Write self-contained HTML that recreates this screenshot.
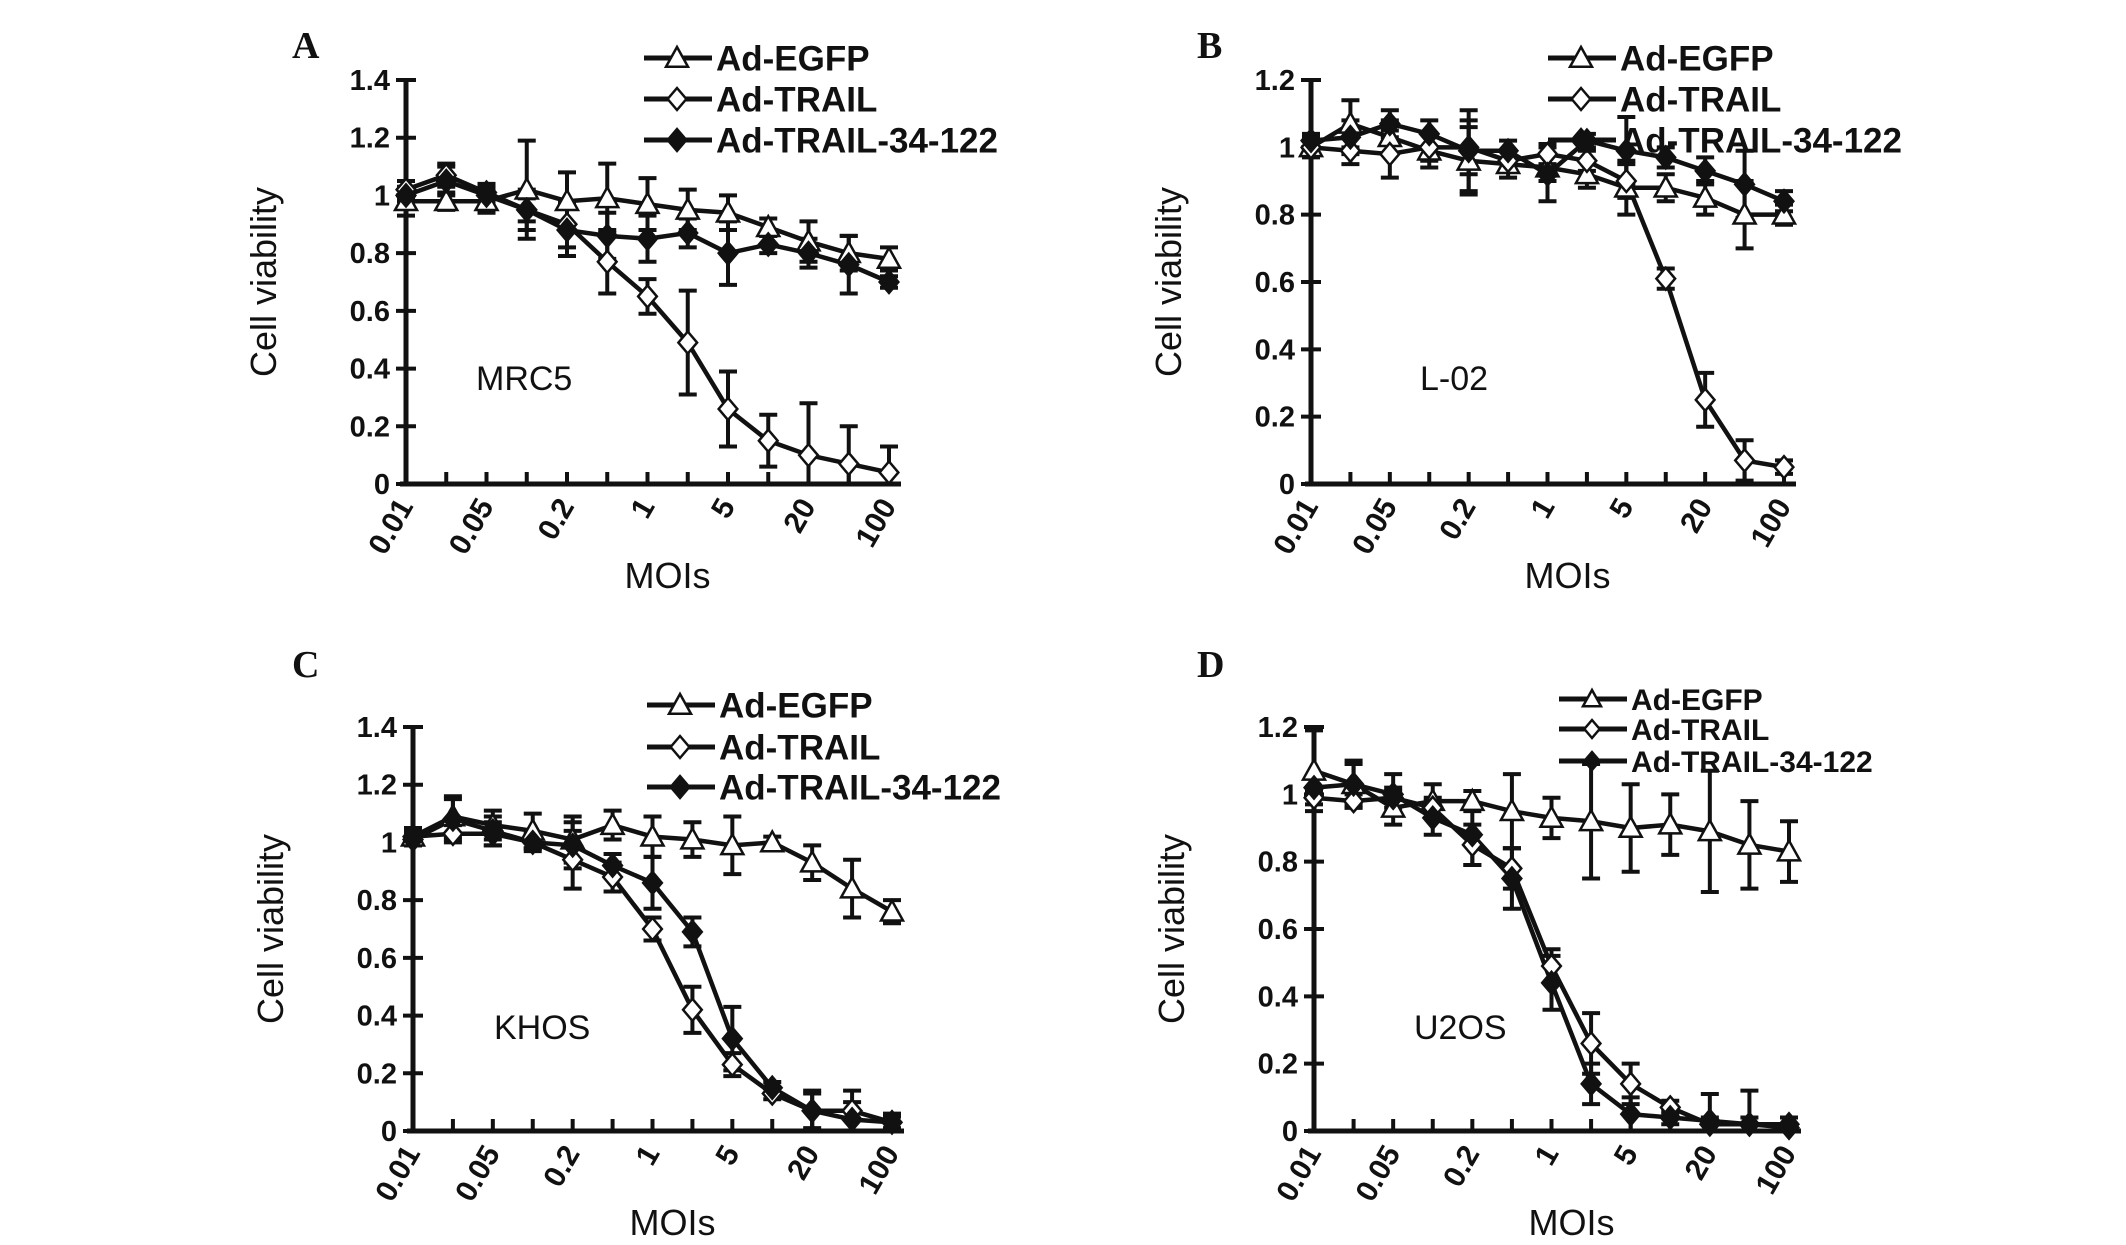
<!DOCTYPE html>
<html><head><meta charset="utf-8"><style>
html,body{margin:0;padding:0;background:#fff;}
svg{display:block;}
text{font-family:"Liberation Sans",Arial,sans-serif;fill:#111;}
</style></head><body>
<svg id="fig" width="2126" height="1245" viewBox="0 0 2126 1245" xmlns="http://www.w3.org/2000/svg"></svg>
<script>
const xLabels = ["0.01","","0.05","","0.2","","1","","5","","20","","100"];
const seriesNames = ["Ad-EGFP","Ad-TRAIL","Ad-TRAIL-34-122"];

const aEgfp = [0.98,0.98,0.98,1.02,0.98,0.99,0.97,0.95,0.94,0.89,0.84,0.80,0.78];
const aEgfpErr = [0.05,0.03,0.04,0.17,0.10,0.12,0.09,0.07,0.06,0.03,0.07,0.06,0.04];
const aTrail = [1.02,1.07,1.01,0.95,0.90,0.77,0.65,0.49,0.26,0.15,0.10,0.07,0.04];
const aTrailErr = [0.03,0.04,0.03,0.04,0.08,0.11,0.06,0.18,0.13,0.09,0.18,0.13,0.09];
const aMut = [1.00,1.05,1.00,0.95,0.88,0.86,0.85,0.87,0.80,0.83,0.80,0.76,0.70];
const aMutErr = [0.02,0.05,0.03,0.07,0.09,0.08,0.08,0.05,0.11,0.03,0.05,0.10,0.02];

const bEgfp = [1.00,1.07,1.03,0.99,0.96,0.95,0.94,0.92,0.88,0.88,0.85,0.80,0.80];
const bEgfpErr = [0.03,0.07,0.05,0.05,0.10,0.04,0.04,0.04,0.08,0.04,0.05,0.10,0.03];
const bTrail = [1.00,0.99,0.98,1.00,1.00,0.96,0.98,0.96,0.90,0.61,0.25,0.07,0.05];
const bTrailErr = [0.02,0.04,0.07,0.04,0.08,0.03,0.03,0.03,0.05,0.03,0.08,0.06,0.02];
const bMut = [1.02,1.03,1.07,1.04,0.99,0.99,0.92,1.02,0.99,0.97,0.93,0.89,0.84];
const bMutErr = [0.02,0.05,0.04,0.04,0.12,0.03,0.08,0.02,0.10,0.03,0.04,0.10,0.03];

const cEgfp = [1.02,1.09,1.06,1.04,1.01,1.06,1.02,1.01,0.99,1.00,0.93,0.84,0.76];
const cEgfpErr = [0.03,0.07,0.05,0.06,0.08,0.05,0.07,0.06,0.10,0.02,0.06,0.10,0.04];
const cTrail = [1.02,1.03,1.03,1.00,0.94,0.88,0.70,0.42,0.23,0.13,0.07,0.07,0.03];
const cTrailErr = [0.02,0.03,0.04,0.02,0.10,0.05,0.04,0.08,0.04,0.02,0.07,0.07,0.02];
const cMut = [1.01,1.08,1.04,1.00,0.99,0.92,0.86,0.69,0.32,0.15,0.07,0.04,0.03];
const cMutErr = [0.02,0.07,0.05,0.03,0.08,0.04,0.09,0.05,0.11,0.02,0.06,0.06,0.03];

const dEgfp = [1.07,1.03,0.96,0.98,0.98,0.95,0.93,0.92,0.90,0.91,0.89,0.85,0.83];
const dEgfpErr = [0.12,0.06,0.05,0.05,0.03,0.11,0.06,0.17,0.13,0.09,0.18,0.13,0.09];
const dTrail = [0.99,0.98,0.99,0.96,0.85,0.78,0.49,0.26,0.14,0.07,0.02,0.02,0.01];
const dTrailErr = [0.02,0.02,0.03,0.03,0.06,0.06,0.05,0.09,0.06,0.02,0.02,0.02,0.01];
const dMut = [1.02,1.03,1.00,0.93,0.88,0.75,0.44,0.14,0.05,0.04,0.03,0.02,0.02];
const dMutErr = [0.03,0.07,0.06,0.05,0.09,0.09,0.08,0.06,0.05,0.02,0.08,0.10,0.02];

const NS="http://www.w3.org/2000/svg";
const svg=document.getElementById('fig');
function mk(tag,attrs,parent,txt){const e=document.createElementNS(NS,tag);for(const k in attrs)e.setAttribute(k,attrs[k]);if(txt!==undefined)e.textContent=txt;(parent||svg).appendChild(e);return e;}

function marker(g,type,x,y,s){
  let e;
  if(type===0){e=mk('polygon',{points:`${x},${y-s} ${x-s},${y+s*0.8} ${x+s},${y+s*0.8}`,fill:'#fff',stroke:'#111','stroke-width':2.5},g);}
  else if(type===1){e=mk('polygon',{points:`${x},${y-s} ${x+s*0.85},${y} ${x},${y+s} ${x-s*0.85},${y}`,fill:'#fff',stroke:'#111','stroke-width':2.5},g);}
  else {e=mk('polygon',{points:`${x},${y-s} ${x+s*0.85},${y} ${x},${y+s} ${x-s*0.85},${y}`,fill:'#111',stroke:'#111','stroke-width':2.5},g);}
  return e;
}

function panel(p){
  const g=mk('g',{});
  
  
  const xS=i=>p.x0+i*(p.x1-p.x0)/12;
  const yS=v=>p.y0-(v/p.ymax)*(p.y0-p.ytop);
  const L=mk('text',{x:p.lx,y:p.ly,style:'font-family:"Liberation Serif",serif;font-size:38px;font-weight:bold'},g,p.letter);
  
  const ya=mk('line',{x1:p.x0,y1:p.ytop,x2:p.x0,y2:p.y0,stroke:'#111','stroke-width':5},g);
  
  const xa=mk('line',{x1:p.x0-6,y1:p.y0,x2:p.x1+12,y2:p.y0,stroke:'#111','stroke-width':5},g);
  
  for(let v=0;v<=p.ymax+1e-9;v+=0.2){
    const y=yS(v);
    mk('line',{x1:p.x0-10,y1:y,x2:p.x0+10,y2:y,stroke:'#111','stroke-width':4},g);
    const lab=(Math.abs(v-Math.round(v))<1e-9)?String(Math.round(v)):v.toFixed(1);
    const t=mk('text',{x:p.x0-16,y:y+10,'text-anchor':'end','font-size':29,'font-weight':'bold'},g,lab);
    
  }
  for(let i=0;i<13;i++){
    const x=xS(i);
    mk('line',{x1:x,y1:p.y0,x2:x,y2:p.y0-12,stroke:'#111','stroke-width':4},g);
    if(xLabels[i]){
      const t=mk('text',{x:x+8,y:p.y0+22,'text-anchor':'end','font-size':30,'font-weight':'bold',transform:`rotate(-60 ${x+8} ${p.y0+22})`},g,xLabels[i]);
      
    }
  }
  const yt=mk('text',{x:0,y:0,'text-anchor':'middle','font-size':36,transform:`translate(${p.x0-130},${(p.y0+p.ytop)/2}) rotate(-90)`},g,'Cell viability');
  
  const xt=mk('text',{x:(p.x0+p.x1)/2+20,y:p.y0+104,'text-anchor':'middle','font-size':36},g,'MOIs');
  
  const cl=mk('text',{x:p.cx,y:p.cy,'font-size':34},g,p.cell);
  
  p.series.forEach((s,si)=>{
    const sg=mk('g',{},g);
    
    
    s.v.forEach((v,i)=>{
      const x=xS(i),yt=yS(v+s.e[i]),yb=yS(Math.max(0,v-s.e[i]));
      mk('line',{x1:x,y1:yt,x2:x,y2:yb,stroke:'#111','stroke-width':4},sg);
      mk('line',{x1:x-9,y1:yt,x2:x+9,y2:yt,stroke:'#111','stroke-width':4},sg);
      mk('line',{x1:x-9,y1:yb,x2:x+9,y2:yb,stroke:'#111','stroke-width':4},sg);
    });
    const pts=s.v.map((v,i)=>xS(i)+','+yS(v)).join(' ');
    const pl=mk('polyline',{points:pts,fill:'none',stroke:'#111','stroke-width':4.5},sg);
    
  });
  p.series.forEach((s,si)=>{
    s.v.forEach((v,i)=>{
      const m=marker(g,si,xS(i),yS(v),11);
      
    });
  });
  const lg=mk('g',{},g);
  
  seriesNames.forEach((n,k)=>{
    const y=p.legY[k];
    const eg=mk('g',{},lg);
    
    mk('line',{x1:p.legX-78,y1:y,x2:p.legX-10,y2:y,stroke:'#111','stroke-width':5},eg);
    marker(eg,k,p.legX-45,y,p.legMs);
    mk('text',{x:p.legX-6,y:y+p.legFs*0.36,'font-size':p.legFs,'font-weight':'bold'},eg,n);
  });
}

panel({letter:'A',lx:292,ly:58,x0:406,x1:889,y0:484,ytop:80,ymax:1.4,cell:'MRC5',cx:476,cy:390,
  legX:722,legY:[58,99,140],legFs:35,legMs:11,
  series:[{v:aEgfp,e:aEgfpErr},{v:aTrail,e:aTrailErr},{v:aMut,e:aMutErr}]});
panel({letter:'B',lx:1197,ly:58,x0:1311,x1:1784,y0:484,ytop:80,ymax:1.2,cell:'L-02',cx:1420,cy:390,
  legX:1626,legY:[58,99,140],legFs:35,legMs:11,
  series:[{v:bEgfp,e:bEgfpErr},{v:bTrail,e:bTrailErr},{v:bMut,e:bMutErr}]});
panel({letter:'C',lx:292,ly:677,x0:413,x1:892,y0:1131,ytop:727,ymax:1.4,cell:'KHOS',cx:494,cy:1039,
  legX:725,legY:[705,747,787],legFs:35,legMs:11,
  series:[{v:cEgfp,e:cEgfpErr},{v:cTrail,e:cTrailErr},{v:cMut,e:cMutErr}]});
panel({letter:'D',lx:1197,ly:677,x0:1314,x1:1789,y0:1131,ytop:727,ymax:1.2,cell:'U2OS',cx:1414,cy:1039,
  legX:1637,legY:[699,729,761],legFs:30,legMs:9,
  series:[{v:dEgfp,e:dEgfpErr},{v:dTrail,e:dTrailErr},{v:dMut,e:dMutErr}]});
</script>
</body></html>
